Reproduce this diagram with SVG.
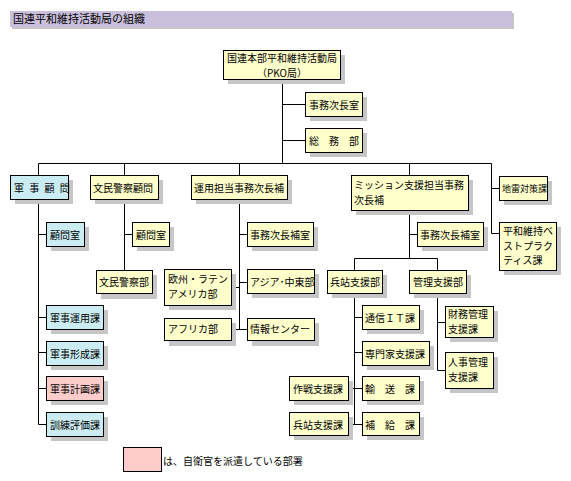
<svg xmlns="http://www.w3.org/2000/svg" width="571" height="481" viewBox="0 0 571 481">
<style>
.sh{fill:#c6c6c6}
.y{fill:#ffffcc;stroke:#000;stroke-width:1}
.b{fill:#ccecf4;stroke:#000;stroke-width:1}
.p{fill:#ffcccc;stroke:#000;stroke-width:1}
text{font-family:"Noto Sans CJK JP","Liberation Sans",sans-serif;font-size:10px;fill:#000}
.ln{fill:none;stroke:#000;stroke-width:1}
</style>
<rect width="571" height="481" fill="#fff"/>
<g id="title">
<rect x="12" y="13" width="502" height="16" class="sh"/>
<rect x="10" y="11" width="502" height="16" fill="#cac0dd"/>
<text x="13" y="23" style="font-size:11px">国連平和維持活動局の組織</text>
</g>
<g id="connectors" class="ln">
<path d="M282.5 79V163.5M282.5 104.5H305M282.5 140.5H305"/>
<path d="M38.5 175V163.5H491.5V233.5H499M491.5 188.5H499M124.5 163.5V175M239.5 163.5V175M409.5 163.5V175"/>
<path d="M38.5 199V424.5H46M38.5 234.5H46M38.5 317.5H46M38.5 352.5H46M38.5 388.5H46"/>
<path d="M124.5 199V270M124.5 234.5H132"/>
<path d="M239.5 199V329.5M239.5 234.5H247M239.5 282.5H247M231 287.5H239.5M231 329.5H247"/>
<path d="M409.5 210V258.5M409.5 234.5H417M354.5 270V258.5H437.5V270"/>
<path d="M354.5 293V424.5H362M354.5 317.5H362M354.5 352.5H362M348 388.5H362M348 424.5H354.5"/>
<path d="M437.5 293V370.5H445M437.5 322.5H445"/>
</g>
<g id="n-pko"><rect x="228" y="55" width="117" height="29" class="sh"/><rect x="223.5" y="50.5" width="117" height="29" class="y"/><text x="282" y="62" text-anchor="middle">国連本部平和維持活動局<tspan x="282" dy="14.6">（PKO局）</tspan></text></g>
<g id="n-jimujichoshitsu"><rect x="310" y="97" width="57" height="24" class="sh"/><rect x="305.5" y="92.5" width="57" height="24" class="y"/><text x="309" y="109">事務次長室</text></g>
<g id="n-somubu"><rect x="310" y="133" width="57" height="24" class="sh"/><rect x="305.5" y="128.5" width="57" height="24" class="y"/><text x="309" y="145">総　務　部</text></g>
<g id="n-gunjikomon"><rect x="15" y="180" width="58" height="24" class="sh"/><rect x="10.5" y="175.5" width="58" height="24" class="b"/><text x="14" y="192" letter-spacing="1.5">軍 事 顧 問</text></g>
<g id="n-bunminkomon"><rect x="95" y="180" width="68" height="24" class="sh"/><rect x="90.5" y="175.5" width="68" height="24" class="y"/><text x="93" y="192">文民警察顧問</text></g>
<g id="n-unyo"><rect x="196" y="180" width="96" height="24" class="sh"/><rect x="191.5" y="175.5" width="96" height="24" class="y"/><text x="194" y="192">運用担当事務次長補</text></g>
<g id="n-mission"><rect x="356" y="180" width="117" height="35" class="sh"/><rect x="351.5" y="175.5" width="117" height="35" class="y"/><text x="354" y="189">ミッション支援担当事務<tspan x="354" dy="14.6">次長補</tspan></text></g>
<g id="n-jirai"><rect x="504" y="181" width="48" height="24" class="sh"/><rect x="499.5" y="176.5" width="48" height="24" class="y"/><text x="502" y="192" style="font-size:9px">地雷対策課</text></g>
<g id="n-bestpractice"><rect x="504" y="227" width="57" height="48" class="sh"/><rect x="499.5" y="222.5" width="57" height="48" class="y"/><text x="503" y="235">平和維持ベ<tspan x="503" dy="14.6">ストプラク</tspan><tspan x="503" dy="14.6">ティス課</tspan></text></g>
<g id="n-komonshitsu1"><rect x="51" y="227" width="38" height="24" class="sh"/><rect x="46.5" y="222.5" width="38" height="24" class="b"/><text x="50" y="239">顧問室</text></g>
<g id="n-gunjiunyo"><rect x="51" y="310" width="57" height="24" class="sh"/><rect x="46.5" y="305.5" width="57" height="24" class="b"/><text x="50" y="322">軍事運用課</text></g>
<g id="n-gunjikeisei"><rect x="51" y="346" width="57" height="24" class="sh"/><rect x="46.5" y="341.5" width="57" height="24" class="b"/><text x="50" y="358">軍事形成課</text></g>
<g id="n-gunjikeikaku"><rect x="51" y="381" width="57" height="24" class="sh"/><rect x="46.5" y="376.5" width="57" height="24" class="p"/><text x="50" y="393">軍事計画課</text></g>
<g id="n-kunren"><rect x="51" y="417" width="57" height="24" class="sh"/><rect x="46.5" y="412.5" width="57" height="24" class="b"/><text x="50" y="429">訓練評価課</text></g>
<g id="n-komonshitsu2"><rect x="137" y="227" width="37" height="24" class="sh"/><rect x="132.5" y="222.5" width="37" height="24" class="y"/><text x="136" y="239">顧問室</text></g>
<g id="n-bunminkeisatsubu"><rect x="101" y="275" width="56" height="24" class="sh"/><rect x="96.5" y="270.5" width="56" height="23" class="y"/><text x="99" y="286">文民警察部</text></g>
<g id="n-jimujichohoshitsu1"><rect x="252" y="227" width="66" height="24" class="sh"/><rect x="247.5" y="222.5" width="66" height="24" class="y"/><text x="250" y="239">事務次長補室</text></g>
<g id="n-europe"><rect x="169" y="274" width="67" height="36" class="sh"/><rect x="164.5" y="269.5" width="67" height="36" class="y"/><text x="168" y="283">欧州・ラテン<tspan x="168" dy="14.6">アメリカ部</tspan></text></g>
<g id="n-asia"><rect x="252" y="274" width="67" height="24" class="sh"/><rect x="247.5" y="269.5" width="67" height="24" class="y"/><text x="250" y="286">アジア･中東部</text></g>
<g id="n-africa"><rect x="169" y="323" width="67" height="23" class="sh"/><rect x="164.5" y="318.5" width="67" height="22" class="y"/><text x="168" y="333">アフリカ部</text></g>
<g id="n-joho"><rect x="252" y="323" width="67" height="23" class="sh"/><rect x="247.5" y="318.5" width="67" height="22" class="y"/><text x="250" y="333">情報センター</text></g>
<g id="n-jimujichohoshitsu2"><rect x="422" y="227" width="66" height="24" class="sh"/><rect x="417.5" y="222.5" width="66" height="24" class="y"/><text x="420" y="239">事務次長補室</text></g>
<g id="n-heitanbu"><rect x="332" y="275" width="55" height="23" class="sh"/><rect x="327.5" y="270.5" width="55" height="23" class="y"/><text x="330" y="286">兵站支援部</text></g>
<g id="n-kanribu"><rect x="414" y="275" width="57" height="23" class="sh"/><rect x="409.5" y="270.5" width="57" height="23" class="y"/><text x="413" y="286">管理支援部</text></g>
<g id="n-tsushin"><rect x="367" y="310" width="57" height="24" class="sh"/><rect x="362.5" y="305.5" width="57" height="24" class="y"/><text x="365" y="322">通信ＩＴ課</text></g>
<g id="n-senmonka"><rect x="367" y="346" width="67" height="24" class="sh"/><rect x="362.5" y="341.5" width="67" height="24" class="y"/><text x="365" y="358">専門家支援課</text></g>
<g id="n-yuso"><rect x="367" y="381" width="57" height="24" class="sh"/><rect x="362.5" y="376.5" width="57" height="24" class="y"/><text x="365" y="393">輸　送　課</text></g>
<g id="n-hokyu"><rect x="367" y="417" width="57" height="23" class="sh"/><rect x="362.5" y="412.5" width="57" height="23" class="y"/><text x="365" y="429">補　給　課</text></g>
<g id="n-sakusen"><rect x="294" y="381" width="59" height="24" class="sh"/><rect x="289.5" y="376.5" width="59" height="24" class="y"/><text x="293" y="393">作戦支援課</text></g>
<g id="n-heitanka"><rect x="294" y="417" width="59" height="23" class="sh"/><rect x="289.5" y="412.5" width="59" height="23" class="y"/><text x="293" y="429">兵站支援課</text></g>
<g id="n-zaimu"><rect x="450" y="311" width="48" height="31" class="sh"/><rect x="445.5" y="306.5" width="48" height="31" class="y"/><text x="448" y="318">財務管理<tspan x="448" dy="14.6">支援課</tspan></text></g>
<g id="n-jinji"><rect x="450" y="357" width="48" height="36" class="sh"/><rect x="445.5" y="352.5" width="48" height="36" class="y"/><text x="448" y="366">人事管理<tspan x="448" dy="14.6">支援課</tspan></text></g>
<g id="legend"><rect x="123.5" y="447.5" width="38" height="24" class="p"/><text x="163" y="465">は、自衛官を派遣している部署</text></g>
</svg>
